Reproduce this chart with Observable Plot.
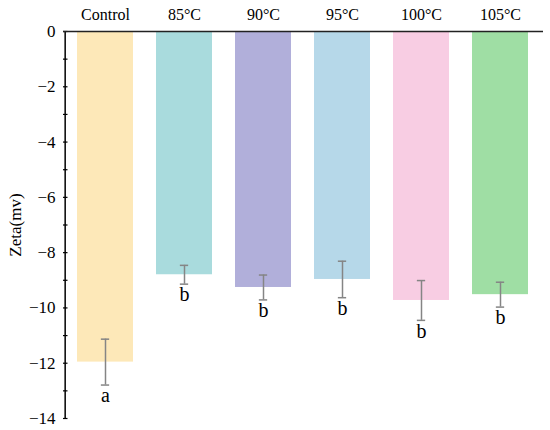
<!DOCTYPE html>
<html>
<head>
<meta charset="utf-8">
<script src="https://cdn.jsdelivr.net/npm/d3@7"></script>
<script src="https://cdn.jsdelivr.net/npm/@observablehq/plot@0.6"></script>
<style>
  html, body { margin: 0; padding: 0; background: #fff; }
  #chart svg { font-family: "Liberation Serif", "DejaVu Serif", serif !important; background: #fff; }
  #chart svg text { font-family: "Liberation Serif", "DejaVu Serif", serif !important; }
</style>
</head>
<body>
<div id="chart"></div>
<script>
const categories = ["Control", "85°C", "90°C", "95°C", "100°C", "105°C"];
const means = [-11.96, -8.80, -9.26, -8.97, -9.73, -9.52];
const errors = [0.83, 0.34, 0.45, 0.66, 0.72, 0.45];
const letters = ["a", "b", "b", "b", "b", "b"];
const colors = ["#FDE8B8", "#A9DBDD", "#B1AFDA", "#B6D8E9", "#F8CDE3", "#9FDEA4"];
const yTicks = [0, -2, -4, -6, -8, -10, -12, -14];
const yMinorTicks = d3.range(-14, 1);

const data = categories.map((c, i) => ({cat: c, mean: means[i], sd: errors[i], letter: letters[i]}));

const W = 550, H = 430;
const mL = 63, mR = 7, mT = 31, mB = 12;
const step = (W - mL - mR) / (6 - 0.29 + 0.30);
const bw = step * (1 - 0.29);
const capW = 9;

const fmt = d => d === 0 ? "0" : "\u2212" + Math.abs(d);

const chart = Plot.plot({
  width: W,
  height: H,
  marginLeft: mL,
  marginRight: mR,
  marginTop: mT,
  marginBottom: mB,
  x: {domain: categories, paddingInner: 0.29, paddingOuter: 0.15},
  y: {domain: [-14, 0]},
  color: {domain: categories, range: colors},
  marks: [
    Plot.barY(data, {x: "cat", y: "mean", fill: "cat"}),
    Plot.ruleX(data, {x: "cat", y1: d => d.mean - d.sd, y2: d => d.mean + d.sd, stroke: "#858585", strokeWidth: 1.5}),
    Plot.tickY(data, {x: "cat", y: d => d.mean - d.sd, stroke: "#858585", strokeWidth: 1.5, insetLeft: (bw - capW) / 2, insetRight: (bw - capW) / 2}),
    Plot.tickY(data, {x: "cat", y: d => d.mean + d.sd, stroke: "#858585", strokeWidth: 1.5, insetLeft: (bw - capW) / 2, insetRight: (bw - capW) / 2}),
    Plot.text(data, {x: "cat", y: d => d.mean - d.sd, text: "letter", lineAnchor: "top", dy: 3, fontSize: 20, fill: "black"}),
    Plot.tickY(yMinorTicks, {y: d => d, stroke: "black", strokeWidth: 1.2, insetRight: (W - mL - mR) - 4.5}),
    Plot.ruleX([categories[0]], {y1: -14, y2: 0, dx: -(step * 0.15 + bw / 2), stroke: "black", strokeWidth: 1.5}),
    Plot.ruleY([0], {stroke: "#222", strokeWidth: 1.5}),
    Plot.axisY({ticks: yTicks, tickFormat: fmt, tickSize: 0, tickPadding: 8, label: "Zeta(mv)", labelAnchor: "center", labelArrow: "none", labelOffset: 55, fontSize: 17}),
    Plot.axisX({anchor: "top", tickSize: 0, tickPadding: 12, label: null, fontSize: 16})
  ]
});

document.getElementById("chart").appendChild(chart);
</script>
</body>
</html>
